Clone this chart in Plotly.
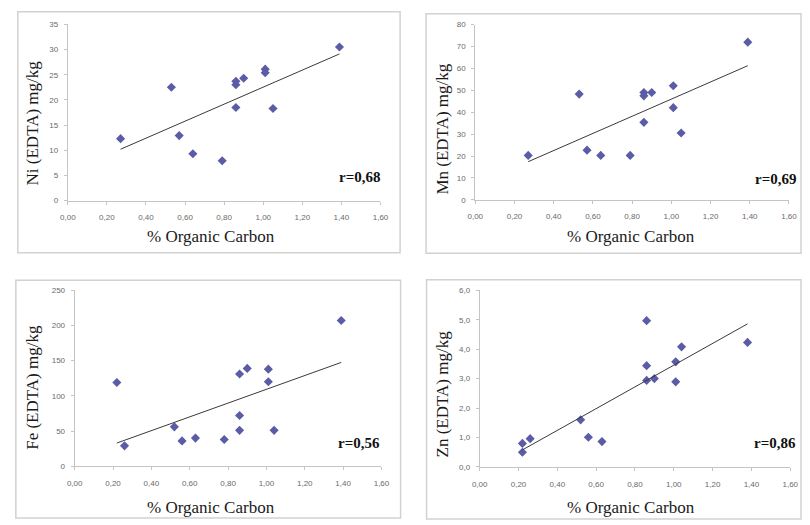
import numpy as np
import plotly.graph_objects as go

# ---- data ----
ni_x = [0.27, 0.53, 0.57, 0.64, 0.79, 0.86, 0.86, 0.86, 0.90, 1.01, 1.01, 1.05, 1.39]
ni_y = [12.3, 22.5, 12.9, 9.3, 7.9, 23.7, 23.0, 18.5, 24.3, 26.1, 25.4, 18.3, 30.5]

mn_x = [0.27, 0.53, 0.57, 0.64, 0.79, 0.86, 0.86, 0.90, 0.86, 1.01, 1.01, 1.05, 1.39]
mn_y = [20.3, 48.3, 22.7, 20.3, 20.3, 49.0, 47.5, 49.0, 35.4, 52.1, 42.1, 30.5, 72.0]

fe_x = [0.22, 0.26, 0.52, 0.56, 0.63, 0.78, 0.86, 0.86, 0.86, 0.90, 1.01, 1.01, 1.04, 1.39]
fe_y = [119, 29, 56, 36, 40, 38, 131, 72, 51, 139, 138, 120, 51, 207]

zn_x = [0.22, 0.22, 0.26, 0.52, 0.56, 0.63, 0.86, 0.86, 0.86, 0.90, 1.01, 1.01, 1.04, 1.38]
zn_y = [0.80, 0.50, 0.96, 1.60, 1.01, 0.86, 4.97, 3.44, 2.94, 3.00, 3.57, 2.89, 4.08, 4.23]

panels = [
    dict(x=ni_x, y=ni_y, ytitle="Ni (EDTA) mg/kg", r="r=0,68", yrange=[0, 35], dtick=5, yfmt="d"),
    dict(x=mn_x, y=mn_y, ytitle="Mn (EDTA) mg/kg", r="r=0,69", yrange=[0, 80], dtick=10, yfmt="d"),
    dict(x=fe_x, y=fe_y, ytitle="Fe (EDTA) mg/kg", r="r=0,56", yrange=[0, 250], dtick=50, yfmt="d"),
    dict(x=zn_x, y=zn_y, ytitle="Zn (EDTA) mg/kg", r="r=0,86", yrange=[0, 6], dtick=1, yfmt=".1f"),
]
x_title = "% Organic Carbon"

# ---- layout geometry (pixels) ----
W, H = 810, 525
# plot areas: x0 (value 0), x1 (value 1.6), y bottom, y top
areas = [
    (61, 380, 200, 20.7),
    (476.7, 796.7, 199.3, 21),
    (68, 381, 470.3, 291.3),
    (481.2, 798, 471, 291.3),
]
boxes = [(10, 400, 8, 253), (426.5, 809, 10, 253.5), (8, 400.5, 281, 523), (427, 809, 280.5, 524)]
xt_pos = [(207, 237), (636, 237), (207.5, 512), (636, 512.5)]
yt_pos = [(25, 121), (443, 127.5), (25, 390), (443, 397)]
r_pos = [(359, 176), (782.5, 178), (358.5, 447), (782, 447)]

def px(x):
    return x / W

def py(y):
    return 1 - y / H

fig = go.Figure()
marker_col = "#5a5ca6"
tick_font = dict(family="Liberation Sans, Arial", size=8, color="#6a6a6a")

for i, p in enumerate(panels):
    n = "" if i == 0 else str(i + 1)
    xa, ya = "x" + n, "y" + n
    fig.add_trace(go.Scatter(
        x=p["x"], y=p["y"], mode="markers", xaxis=xa, yaxis=ya,
        marker=dict(symbol="diamond", size=7, color=marker_col),
        showlegend=False, hoverinfo="skip"))
    k, b = np.polyfit(p["x"], p["y"], 1)
    xs = np.array([min(p["x"]), max(p["x"])])
    fig.add_trace(go.Scatter(
        x=xs, y=k * xs + b, mode="lines", xaxis=xa, yaxis=ya,
        line=dict(color="#3a3a3a", width=1), showlegend=False, hoverinfo="skip"))
    x0, x1, yb, yt = areas[i]
    fig.layout["xaxis" + n] = dict(
        domain=[px(x0), px(x1)], range=[0, 1.6], dtick=0.2, tick0=0,
        tickformat=".2f", showgrid=False, zeroline=False, showline=True,
        linecolor="#c4c4c4", linewidth=1, ticks="outside", ticklen=3,
        tickcolor="#c4c4c4", tickfont=tick_font, anchor=ya, fixedrange=True,
        ticklabelstandoff=6)
    fig.layout["yaxis" + n] = dict(
        domain=[py(yb), py(yt)], range=p["yrange"], dtick=p["dtick"], tick0=0,
        tickformat=p["yfmt"], showgrid=False, zeroline=False, showline=True,
        linecolor="#c4c4c4", linewidth=1, ticks="outside", ticklen=3,
        tickcolor="#c4c4c4", tickfont=tick_font, anchor=xa, fixedrange=True,
        ticklabelstandoff=4)
    bx0, bx1, by0, by1 = boxes[i]
    fig.add_shape(type="rect", xref="paper", yref="paper",
                  x0=px(bx0), x1=px(bx1), y0=py(by1), y1=py(by0),
                  line=dict(color="#d2d2d2", width=1.5), fillcolor="rgba(0,0,0,0)")
    fig.add_annotation(text=x_title, xref="paper", yref="paper",
                       x=px(xt_pos[i][0]), y=py(xt_pos[i][1]), showarrow=False,
                       xanchor="center", yanchor="middle",
                       font=dict(family="Liberation Serif, Times New Roman", size=17, color="#1a1a1a"))
    fig.add_annotation(text=p["ytitle"], xref="paper", yref="paper",
                       x=px(yt_pos[i][0]), y=py(yt_pos[i][1]), showarrow=False,
                       xanchor="center", yanchor="middle", textangle=-90,
                       font=dict(family="Liberation Serif, Times New Roman", size=17, color="#1a1a1a"))
    fig.add_annotation(text="<b>" + p["r"] + "</b>", xref="paper", yref="paper",
                       x=px(r_pos[i][0]), y=py(r_pos[i][1]), showarrow=False,
                       xanchor="center", yanchor="middle",
                       font=dict(family="Liberation Serif, Times New Roman", size=15, color="#111111"))

fig.update_layout(width=W, height=H, margin=dict(l=0, r=0, t=0, b=0),
                  paper_bgcolor="white", plot_bgcolor="white", separators=", ")
fig.write_html("out.html", config={"displayModeBar": False},
               post_script="document.body.style.margin='0px';document.body.style.overflow='hidden';")
